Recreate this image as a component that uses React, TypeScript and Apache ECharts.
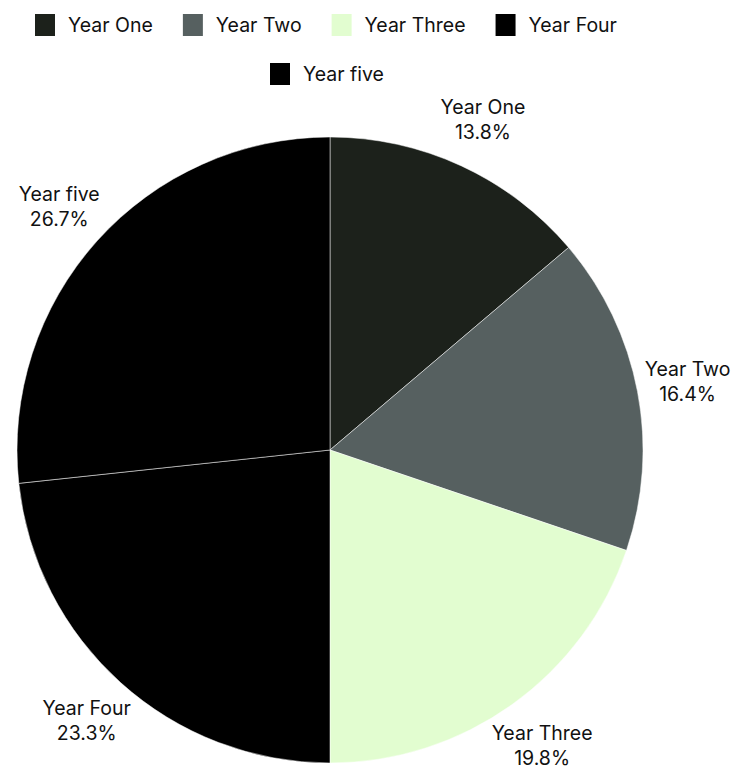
import React, { useEffect, useRef } from "react";
import * as echarts from "echarts";

const categories = ["Year One", "Year Two", "Year Three", "Year Four", "Year five"];
const values = [13.8, 16.4, 19.8, 23.3, 26.7];
const colors = ["#1c211b", "#566060", "#e2fdd0", "#000000", "#000000"];
const legendRow1 = ["Year One", "Year Two", "Year Three", "Year Four"];
const legendRow2 = ["Year five"];

const FONT = "Inter, 'Liberation Sans', sans-serif";

export default function App() {
  const ref = useRef<HTMLDivElement>(null);
  useEffect(() => {
    if (!ref.current) return;
    const chart = echarts.init(ref.current, undefined, { renderer: "svg" });
    const total = values.reduce((a, b) => a + b, 0);
    const data = categories.map((name, i) => ({
      name,
      value: values[i],
      itemStyle: { color: colors[i] },
    }));
    const legendBase = {
      padding: 0,
      itemWidth: 22,
      itemHeight: 24,
      itemGap: 28,
      icon: "rect",
      orient: "horizontal",
      selectedMode: false,
      textStyle: {
        fontFamily: FONT,
        fontSize: 19.5,
        color: "#111",
        padding: [0, 6, 0, 7],
      },
    };
    chart.setOption({
      animation: false,
      legend: [
        { ...legendBase, data: legendRow1, top: 12, left: 33 },
        { ...legendBase, data: legendRow2, top: 61, left: 268 },
      ],
      series: [
        {
          type: "pie",
          center: [330, 450],
          radius: [0, 313],
          startAngle: 90,
          clockwise: true,
          data,
          itemStyle: { borderColor: "#ffffff", borderWidth: 0.5 },
          label: { show: false },
          labelLine: { show: false },
          emphasis: { disabled: true },
          silent: true,
        },
        {
          type: "pie",
          center: [330, 450],
          radius: [350, 372],
          startAngle: 90,
          clockwise: true,
          data: categories.map((name, i) => ({
            name,
            value: values[i],
            itemStyle: { color: "rgba(0,0,0,0)" },
          })),
          silent: true,
          emphasis: { disabled: true },
          label: {
            show: true,
            position: "inside",
            rotate: 0,
            fontFamily: FONT,
            fontSize: 19.5,
            lineHeight: 25,
            color: "#111",
            align: "center",
            formatter: (p: any) =>
              `${p.name}\n${((p.value / total) * 100).toFixed(1)}%`,
          },
          labelLine: { show: false },
        },
      ],
    });
    return () => chart.dispose();
  }, []);
  return (
    <div
      ref={ref}
      style={{ position: "absolute", left: 0, top: 0, width: 744, height: 771 }}
    />
  );
}
